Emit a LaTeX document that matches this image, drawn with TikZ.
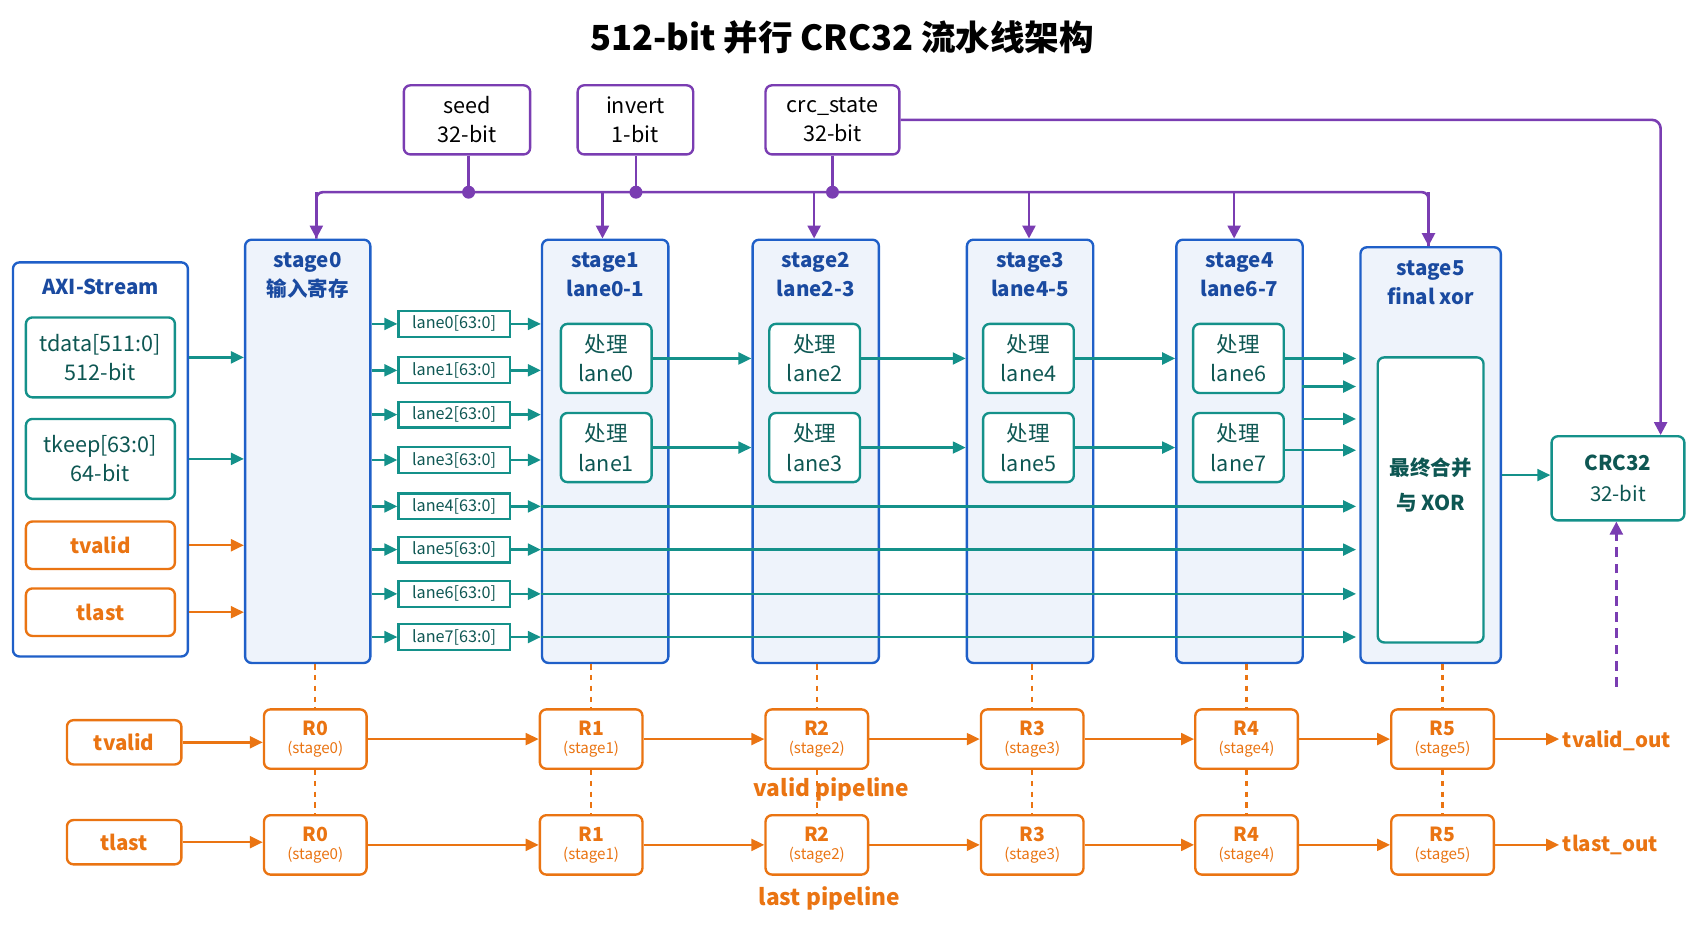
\documentclass[tikz,border=0pt]{standalone}
\usepackage{fontspec}
\setmainfont{Noto Sans CJK SC}
\usetikzlibrary{arrows.meta}
\definecolor{bl}{HTML}{1F5FC8}
\definecolor{blf}{HTML}{EEF3FB}
\definecolor{blt}{HTML}{1A4AA0}
\definecolor{tl}{HTML}{14918A}
\definecolor{tlt}{HTML}{0E5753}
\definecolor{og}{HTML}{EA7412}
\definecolor{pu}{HTML}{7A3DB2}
\begin{document}
\begin{tikzpicture}[x=1pt,y=-1pt,
 box/.style={draw,rounded corners=6pt,line width=2.2pt,inner sep=0pt,align=center},
 stg/.style={box,draw=bl,fill=blf},
 pbox/.style={box,draw=pu,fill=white,text=black,font=\fontsize{20}{27}\selectfont},
 tbox/.style={box,draw=tl,fill=white,text=tlt,font=\fontsize{20}{27}\selectfont},
 lbox/.style={draw=tl,line width=2pt,fill=white,text=tlt,inner sep=0pt,font=\fontsize{15}{16}\selectfont},
 obox/.style={box,draw=og,fill=white,text=og,font=\bfseries\fontsize{19}{22}\selectfont},
 rbox/.style={box,draw=og,fill=white,text=og,font=\bfseries\fontsize{18}{20}\selectfont},
 ta/.style={draw=tl,line width=2.2pt,-{Triangle[length=12pt,width=11pt]}},
 oa/.style={draw=og,line width=2.2pt,-{Triangle[length=12pt,width=11pt]}},
 pa/.style={draw=pu,line width=2.4pt,-{Triangle[length=12pt,width=12pt]}},
 st/.style={text=blt,font=\bfseries\fontsize{19}{27}\selectfont,align=center}]
\useasboundingbox (0,0) rectangle (1568,860);
\node[font=\bfseries\fontsize{32}{36}\selectfont] (title) at (780,35) {512-bit 并行 CRC32 流水线架构};
% top inputs
\node[pbox,minimum width=117pt,minimum height=64pt] (seed) at (432.5,111) {seed\\32-bit};
\node[pbox,minimum width=107pt,minimum height=64pt] (inv) at (588.5,111) {invert\\1-bit};
\node[pbox,minimum width=124pt,minimum height=64pt] (crcs) at (771,111) {crc\_state\\32-bit};
% AXI
\node[stg,fill=white,minimum width=162pt,minimum height=365pt] (axi) at (93,425.5) {};
\node[st] (axit) at (93,266) {AXI-Stream};
\node[tbox,minimum width=138pt,minimum height=74pt] (td) at (93,331) {tdata[511:0]\\512-bit};
\node[tbox,minimum width=138pt,minimum height=74pt] (tk) at (93,425) {tkeep[63:0]\\64-bit};
\node[obox,minimum width=138pt,minimum height=44pt] (tv) at (93,505) {tvalid};
\node[obox,minimum width=138pt,minimum height=44pt] (tla) at (93,567) {tlast};
% stages
\node[stg,minimum width=116pt,minimum height=392pt] (s0) at (285,418) {};
\node[st,anchor=north] at (285,230) {stage0\\输入寄存};
\foreach \n/\x/\t in {1/560.5/lane0-1,2/755.5/lane2-3,3/954/lane4-5,4/1148/lane6-7}{
 \node[stg,minimum width=117pt,minimum height=392pt] (s\n) at (\x,418) {};
 \node[st,anchor=north] at (\x,230) {stage\n\\\t};}
\node[stg,minimum width=130pt,minimum height=385pt] (s5) at (1325,421.5) {};
\node[st,anchor=north] at (1325,238) {stage5\\final xor};
\node[box,draw=tl,fill=white,minimum width=98pt,minimum height=264pt] (fx) at (1325,463) {};
\node[text=tlt,font=\bfseries\fontsize{19}{32}\selectfont,align=center] (fxt) at (1325,449) {最终合并\\与 XOR};
% processing boxes
\foreach \x/\a/\b/\s in {561.5/0/1/1,754.5/2/3/2,952.5/4/5/3,1147/6/7/4}{
 \node[tbox,minimum width=84pt,minimum height=64pt] (p\a) at (\x,332) {处理\\lane\a};
 \node[tbox,minimum width=84pt,minimum height=64pt] (p\b) at (\x,414.5) {处理\\lane\b};}
% lanes
\foreach \i/\y in {0/300,1/343,2/384,3/426,4/469,5/509,6/550,7/590}{
 \node[lbox,minimum width=103pt,minimum height=24pt] (l\i) at (420.5,\y) {lane\i[63:0]};
 \draw[ta] (s0.east|-l\i) -- (l\i.west);
 \draw[ta] (l\i.east) -- (s1.west|-l\i);}
\foreach \i in {4,5,6,7}{\draw[ta] (s1.west|-l\i) -- ([xshift=-3pt]s5.west|-l\i);}
% processing flow
\draw[ta] (p0.east) -- (s2.west|-p0); \draw[ta] (p1.east) -- (s2.west|-p1);
\draw[ta] (p2.east) -- (s3.west|-p2); \draw[ta] (p3.east) -- (s3.west|-p3);
\draw[ta] (p4.east) -- (s4.west|-p4); \draw[ta] (p5.east) -- (s4.west|-p5);
\coordinate (c1) at (1206,358); \coordinate (c2) at (1206,388);
\draw[ta] (p6.east) -- ([xshift=-3pt]s5.west|-p6);
\draw[ta] (c1) -- ([xshift=-3pt]s5.west|-c1);
\draw[ta] (c2) -- ([xshift=-3pt]s5.west|-c2);
\draw[ta] (p7.east|-0,417) -- ([xshift=-3pt]s5.west|-0,417);
% AXI to stage0
\draw[ta] (axi.east|-td) -- (s0.west|-td);
\draw[ta] (axi.east|-tk) -- (s0.west|-tk);
\draw[oa] (axi.east|-tv) -- (s0.west|-tv);
\draw[oa] (axi.east|-tla) -- (s0.west|-tla);
% CRC32
\node[tbox,minimum width=123pt,minimum height=78pt,font=\fontsize{19}{28}\selectfont] (crc) at (1498.5,443) {\textbf{CRC32}\\32-bit};
\draw[ta] (s5.east|-0,440) -- (crc.west|-0,440);
\coordinate (dd) at (1497,636);
\draw[pa,dash pattern=on 9pt off 6pt] (dd) -- (crc.south-|dd);
% bus
\coordinate (b0) at (293,178); \coordinate (b5) at (1323,178);
\draw[draw=pu,line width=2.4pt,rounded corners=6pt] (s0.north-|b0) -- (b0) -- (b5) -- (s5.north-|b5);
\draw[pa] (b0) -- (s0.north-|b0);
\draw[pa] (b5) -- (s5.north-|b5);
\foreach \x/\n in {558/1,754/2,953/3,1143/4}{\draw[pa] (\x,178) -- (s\n.north-|\x,0);}
\foreach \n/\x in {seed/434,inv/589,crcs/771}{
 \draw[draw=pu,line width=2.4pt] (\n.south-|\x,0) -- (\x,178);
 \fill[pu] (\x,178) circle (6pt);}
\draw[pa,rounded corners=8pt] (crcs.east) -- (1538,111) -- (crc.north-|1538,0);
% pipelines
\node[obox,minimum width=106pt,minimum height=41pt] (iv) at (115,687.5) {tvalid};
\node[obox,minimum width=106pt,minimum height=41pt] (il) at (115,780) {tlast};
\foreach \k/\x in {0/292,1/547.5,2/756.5,3/956,4/1154.5,5/1336}{
 \node[rbox,minimum width=95pt,minimum height=55pt] (v\k) at (\x,684.5) {R\k\\[-3pt]{\mdseries\fontsize{14}{16}\selectfont(stage\k)}};
 \node[rbox,minimum width=95pt,minimum height=55pt] (q\k) at (\x,782.5) {R\k\\[-3pt]{\mdseries\fontsize{14}{16}\selectfont(stage\k)}};
 \draw[og,line width=2pt,dash pattern=on 5pt off 5pt] (s\k.south-|v\k) -- (v\k.north);
 \draw[og,line width=2pt,dash pattern=on 5pt off 5pt] (v\k.south) -- (q\k.north);}
\draw[oa] (iv.east) -- (v0.west|-iv.east); \draw[oa] (il.east) -- (q0.west|-il.east);
\foreach \a/\b in {0/1,1/2,2/3,3/4,4/5}{\draw[oa] (v\a) -- (v\b); \draw[oa] (q\a) -- (q\b);}
\node[text=og,font=\bfseries\fontsize{19}{22}\selectfont,anchor=west] (vo) at (1444,686) {tvalid\_out};
\node[text=og,font=\bfseries\fontsize{19}{22}\selectfont,anchor=west] (lo) at (1444,783) {tlast\_out};
\draw[oa] (v5.east) -- (vo.west|-v5);
\draw[oa] (q5.east) -- (lo.west|-q5);
\node[text=og,font=\bfseries\fontsize{21}{24}\selectfont] (vp) at (770,731) {valid pipeline};
\node[text=og,font=\bfseries\fontsize{21}{24}\selectfont] (lp) at (768,832) {last pipeline};
\end{tikzpicture}
\end{document}
